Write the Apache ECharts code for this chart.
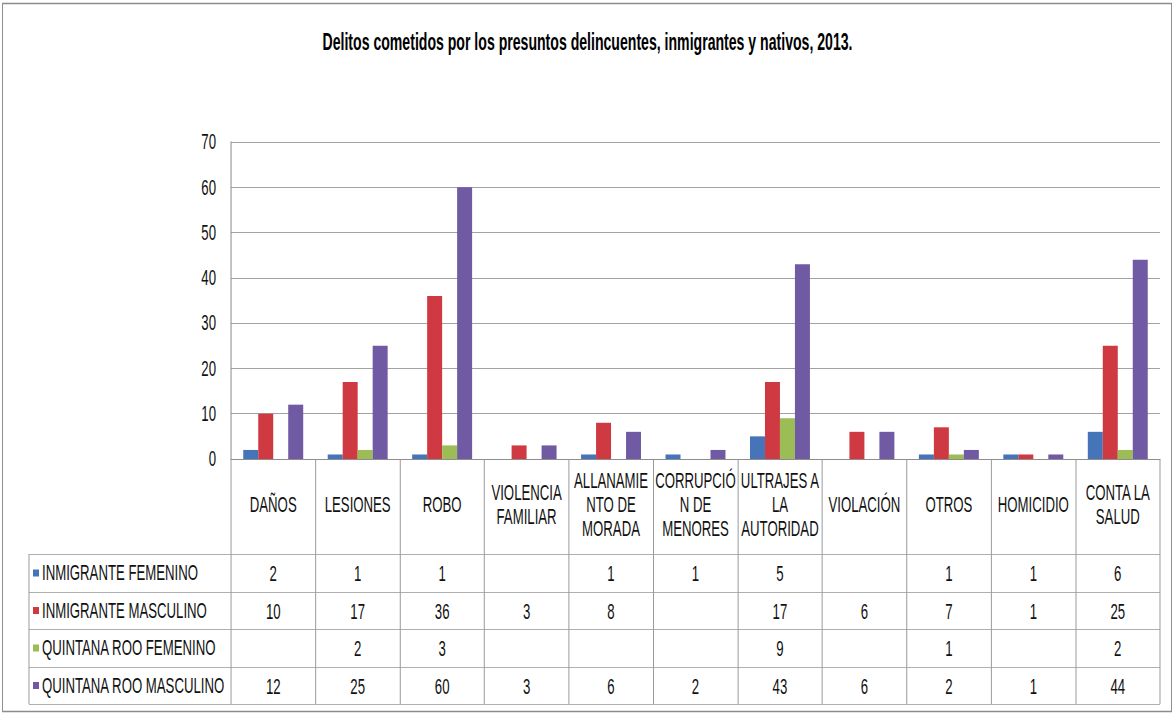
<!DOCTYPE html>
<html>
<head>
<meta charset="utf-8">
<script src="https://cdn.jsdelivr.net/npm/echarts@6/dist/echarts.min.js"></script>
<style>
html,body{margin:0;padding:0;background:#fff;overflow:hidden;}
#chart{width:1958px;height:715px;transform:scaleX(0.600102);transform-origin:0 0;}
</style>
</head>
<body>
<div id="chart"></div>
<script>
// ---- data ----
var title = 'Delitos cometidos por los presuntos delincuentes, inmigrantes y nativos, 2013.';
var categories = ['DAÑOS', 'LESIONES', 'ROBO', 'VIOLENCIA\nFAMILIAR', 'ALLANAMIE\nNTO DE\nMORADA',
  'CORRUPCIÓ\nN DE\nMENORES', 'ULTRAJES A\nLA\nAUTORIDAD', 'VIOLACIÓN', 'OTROS', 'HOMICIDIO', 'CONTA LA\nSALUD'];
var seriesNames = ['INMIGRANTE FEMENINO', 'INMIGRANTE MASCULINO', 'QUINTANA ROO FEMENINO', 'QUINTANA ROO MASCULINO'];
var inmigranteFemenino   = [2, 1, 1, null, 1, 1, 5, null, 1, 1, 6];
var inmigranteMasculino  = [10, 17, 36, 3, 8, null, 17, 6, 7, 1, 25];
var quintanaRooFemenino  = [null, 2, 3, null, null, null, 9, null, 1, null, 2];
var quintanaRooMasculino = [12, 25, 60, 3, 6, 2, 43, 6, 2, 1, 44];
var yTicks = {min: 0, max: 70, interval: 10};

var seriesData = [inmigranteFemenino, inmigranteMasculino, quintanaRooFemenino, quintanaRooMasculino];
var colors = ['#4674b9', '#cf3a42', '#9cbc55', '#6f5aa3'];

// ---- layout (the chart is drawn wide and condensed horizontally by CSS, like the narrow Excel font) ----
var S = 1175 / 1958;              // horizontal condensation factor
function X(px) { return px / S; } // screen px -> chart px
var FONT = "'Liberation Sans', Arial, sans-serif";
var FS = 22;
var G_LEFT = 231, G_RIGHT = 1160, G_TOP = 142, G_BOTTOM = 459;
var TABLE_LEFT = 29;
var rowLines = [554, 592, 629, 667, 704];
var lineColor = '#9a9a9a';
var VLW = 1 / S; // vertical line width that ends up 1px

var xAxes = [{
  type: 'category',
  data: categories,
  gridIndex: 0,
  position: 'bottom',
  axisLine: {show: true, lineStyle: {color: '#888', width: 1}},
  axisTick: {show: true, interval: 0, length: rowLines[rowLines.length - 1] - G_BOTTOM, lineStyle: {color: lineColor, width: VLW}},
  axisLabel: {interval: 0, margin: 46, verticalAlign: 'middle', color: '#111', fontFamily: FONT, fontSize: FS, lineHeight: 24, align: 'center'},
  splitLine: {show: false}
}];
for (var r = 0; r < 4; r++) {
  (function (vals, r) {
    var center = (rowLines[r] + rowLines[r + 1]) / 2 + 1;
    xAxes.push({
      type: 'category',
      data: categories,
      gridIndex: 0,
      position: 'bottom',
      offset: center - G_BOTTOM,
      axisLine: {show: false},
      axisTick: {show: false},
      splitLine: {show: false},
      axisLabel: {
        interval: 0, margin: 0, verticalAlign: 'middle', color: '#111', fontFamily: FONT, fontSize: FS,
        formatter: function (v, i) { return vals[i] == null ? '' : String(vals[i]); }
      }
    });
  })(seriesData[r], r);
}

var graphics = [
  {type: 'rect', shape: {x: X(2.5), y: 3.5, width: X(1169), height: 708}, style: {fill: null, stroke: '#8c8c8c', lineWidth: 1.6}, silent: true, z: -1},
  {type: 'line', shape: {x1: X(TABLE_LEFT), y1: rowLines[0], x2: X(TABLE_LEFT), y2: rowLines[rowLines.length - 1]}, style: {stroke: lineColor, lineWidth: VLW}, silent: true}
];
rowLines.forEach(function (y) {
  graphics.push({type: 'line', shape: {x1: X(TABLE_LEFT), y1: y + 0.5, x2: X(G_RIGHT), y2: y + 0.5}, style: {stroke: lineColor, lineWidth: 1}, silent: true});
});

var series = seriesNames.map(function (name, i) {
  return {
    name: name,
    type: 'bar',
    data: seriesData[i],
    xAxisIndex: 0,
    yAxisIndex: 0,
    barGap: '0%',
    barCategoryGap: '29%',
    itemStyle: {color: colors[i]}
  };
});

var chart = echarts.init(document.getElementById('chart'), null, {renderer: 'svg'});
chart.setOption({
  animation: false,
  backgroundColor: '#fff',
  color: colors,
  title: {
    text: title, left: 'center', top: 24,
    textStyle: {fontFamily: FONT, fontSize: 23.5, fontWeight: 'bold', color: '#000'}
  },
  legend: {
    orient: 'vertical',
    left: X(33), top: 561, padding: 0,
    itemWidth: X(6), itemHeight: 7, itemGap: 13.5,
    icon: 'rect',
    selectedMode: false,
    data: seriesNames,
    textStyle: {fontFamily: FONT, fontSize: FS, color: '#111', lineHeight: 24}
  },
  grid: {left: X(G_LEFT), right: X(1175 - G_RIGHT), top: G_TOP, bottom: 715 - G_BOTTOM, containLabel: false},
  xAxis: xAxes,
  yAxis: {
    type: 'value', min: yTicks.min, max: yTicks.max, interval: yTicks.interval,
    axisLine: {show: true, lineStyle: {color: '#888', width: VLW}},
    axisTick: {show: false},
    axisLabel: {color: '#111', fontFamily: FONT, fontSize: FS, margin: X(15)},
    splitLine: {show: true, lineStyle: {color: '#8a8a8a', width: 1}}
  },
  graphic: graphics,
  series: series
});
</script>
</body>
</html>
